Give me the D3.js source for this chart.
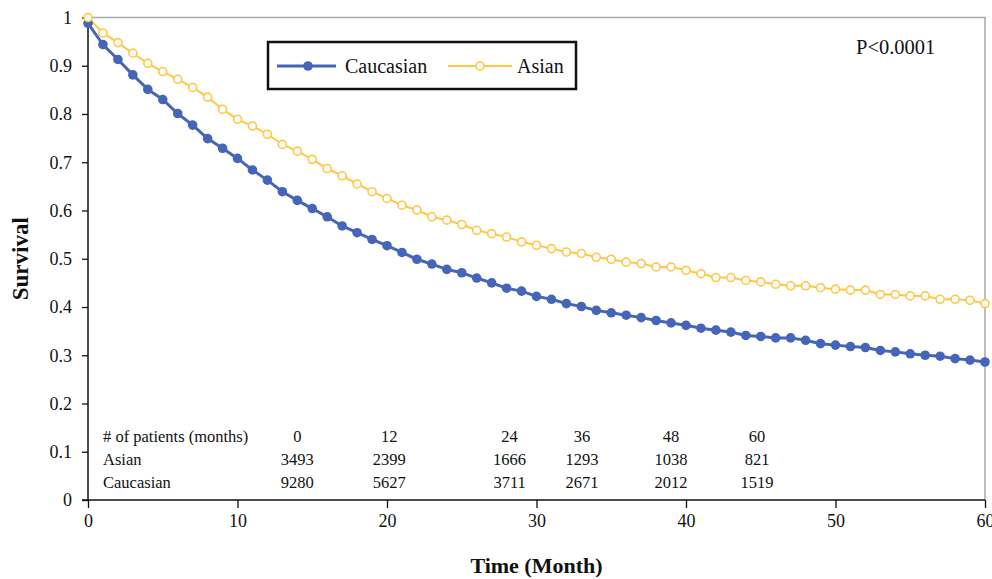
<!DOCTYPE html>
<html>
<head>
<meta charset="utf-8">
<script src="https://cdn.jsdelivr.net/npm/d3@7"></script>
<style>
  body { margin: 0; background: #fff; }
  text { font-family: 'Liberation Serif', 'Times New Roman', serif; fill: #111; }
</style>
</head>
<body>
<script>
// Survival by month
const months = d3.range(0, 61)

const caucasian = [
  0.988, 0.944, 0.913, 0.881, 0.851, 0.830, 0.801, 0.777, 0.749, 0.729, 0.708,
  0.684, 0.663, 0.639, 0.621, 0.604, 0.587, 0.568, 0.554, 0.540, 0.527,
  0.513, 0.499, 0.489, 0.478, 0.471, 0.460, 0.450, 0.439, 0.433, 0.422,
  0.416, 0.407, 0.401, 0.393, 0.388, 0.383, 0.378, 0.372, 0.367, 0.362,
  0.356, 0.352, 0.348, 0.341, 0.339, 0.336, 0.336, 0.331, 0.324, 0.321,
  0.318, 0.316, 0.310, 0.307, 0.303, 0.300, 0.298, 0.293, 0.290, 0.286
]

const asian = [
  1.000, 0.968, 0.948, 0.926, 0.905, 0.888, 0.872, 0.855, 0.835, 0.810, 0.789,
  0.775, 0.758, 0.737, 0.723, 0.706, 0.687, 0.672, 0.655, 0.639, 0.625,
  0.611, 0.601, 0.587, 0.580, 0.571, 0.559, 0.552, 0.545, 0.535, 0.528,
  0.521, 0.514, 0.511, 0.503, 0.499, 0.493, 0.490, 0.483, 0.483, 0.476,
  0.469, 0.461, 0.461, 0.455, 0.452, 0.447, 0.444, 0.444, 0.440, 0.437,
  0.435, 0.435, 0.426, 0.426, 0.423, 0.423, 0.416, 0.416, 0.414, 0.407
]

const xTicks = [0, 10, 20, 30, 40, 50, 60]
const yTicks = [0, 0.1, 0.2, 0.3, 0.4, 0.5, 0.6, 0.7, 0.8, 0.9, 1]

// patients at risk table
const riskHeader = ['0', '12', '24', '36', '48', '60']
const riskAsian = [3493, 2399, 1666, 1293, 1038, 821]
const riskCaucasian = [9280, 5627, 3711, 2671, 2012, 1519]

const blue = '#4566b8'
const yellow = '#ffc745'

const width = 992
const height = 579
const plotLeft = 88, plotRight = 985, plotTop = 17.5, plotBottom = 500

const svg = d3
  .select('body')
  .append('svg')
  .attr('width', width)
  .attr('height', height)

const x = d3.scaleLinear().domain([0, 60]).range([plotLeft, plotRight])
const y = d3.scaleLinear().domain([0, 1]).range([plotBottom, plotTop])

// plot area border (top and right, grey)
svg.append('path')
  .attr('d', `M${plotLeft},${plotTop}H${plotRight}V${plotBottom}`)
  .attr('fill', 'none')
  .attr('stroke', '#a8a8a8')
  .attr('stroke-width', 1.5)

const axisX = d3.axisBottom(x).tickValues(xTicks).tickSize(8).tickPadding(6).tickFormat(d3.format('d'))
const gx = svg.append('g').attr('transform', `translate(0, ${plotBottom})`).call(axisX)

const axisY = d3.axisLeft(y).tickValues(yTicks).tickSize(6).tickPadding(10).tickFormat(d => String(+d.toFixed(1)))
const gy = svg.append('g').attr('transform', `translate(${plotLeft}, 0)`).call(axisY)

;[gx, gy].forEach(g => {
  g.select('.domain').attr('stroke', '#111').attr('stroke-width', 1.5)
  g.selectAll('.tick line').attr('stroke', '#111').attr('stroke-width', 1.3)
  g.selectAll('.tick text')
    .attr('font-family', "'Liberation Serif', serif")
    .attr('font-size', 18)
    .attr('fill', '#111')
})
gy.select('.domain').attr('d', `M0,${plotBottom}V${plotTop}`)
gx.select('.domain').attr('d', `M${plotLeft - 6},0H${plotRight}`)

// axis titles
svg.append('text')
  .attr('x', (plotLeft + plotRight) / 2)
  .attr('y', 573)
  .attr('text-anchor', 'middle')
  .attr('font-size', 22)
  .attr('font-weight', 'bold')
  .text('Time (Month)')

svg.append('text')
  .attr('transform', `translate(28, ${(plotTop + plotBottom) / 2}) rotate(-90)`)
  .attr('text-anchor', 'middle')
  .attr('font-size', 23)
  .attr('font-weight', 'bold')
  .text('Survival')

// curves
const line = d3.line().x((d, i) => x(months[i])).y(d => y(d))

svg.append('path')
  .datum(asian)
  .attr('d', line)
  .attr('fill', 'none')
  .attr('stroke', yellow)
  .attr('stroke-width', 2)

svg.append('path')
  .datum(caucasian)
  .attr('d', line)
  .attr('fill', 'none')
  .attr('stroke', blue)
  .attr('stroke-width', 3)

svg.append('g')
  .selectAll('circle')
  .data(caucasian)
  .join('circle')
  .attr('cx', (d, i) => x(months[i]))
  .attr('cy', d => y(d))
  .attr('r', 4.8)
  .attr('fill', blue)

svg.append('g')
  .selectAll('circle')
  .data(asian)
  .join('circle')
  .attr('cx', (d, i) => x(months[i]))
  .attr('cy', d => y(d))
  .attr('r', 4)
  .attr('fill', '#fff')
  .attr('stroke', yellow)
  .attr('stroke-width', 1.6)

// legend
const legend = svg.append('g').attr('transform', 'translate(268, 42)')
legend.append('rect')
  .attr('width', 308)
  .attr('height', 47)
  .attr('fill', '#fff')
  .attr('stroke', '#111')
  .attr('stroke-width', 2.5)

legend.append('line').attr('x1', 9).attr('x2', 68).attr('y1', 24).attr('y2', 24)
  .attr('stroke', blue).attr('stroke-width', 3)
legend.append('circle').attr('cx', 40).attr('cy', 24).attr('r', 4.8).attr('fill', blue)
legend.append('text').attr('x', 77).attr('y', 31).attr('font-size', 20).text('Caucasian')

legend.append('line').attr('x1', 180).attr('x2', 244).attr('y1', 24).attr('y2', 24)
  .attr('stroke', yellow).attr('stroke-width', 2)
legend.append('circle').attr('cx', 212).attr('cy', 24).attr('r', 4)
  .attr('fill', '#fff').attr('stroke', yellow).attr('stroke-width', 1.6)
legend.append('text').attr('x', 249).attr('y', 31).attr('font-size', 20).text('Asian')

svg.append('text')
  .attr('x', 856)
  .attr('y', 54)
  .attr('font-size', 20.5)
  .text('P<0.0001')

// patients at risk table, columns placed in month units
const colMonths = [14, 20.15, 28.2, 33.05, 39, 44.75]
const rows = [
  { label: '# of patients (months)', values: riskHeader, y: 442 },
  { label: 'Asian', values: riskAsian, y: 465 },
  { label: 'Caucasian', values: riskCaucasian, y: 488 }
]

const table = svg.append('g')
rows.forEach(r => {
  table.append('text')
    .attr('x', 103)
    .attr('y', r.y)
    .attr('font-size', 16.5)
    .text(r.label)
  table.selectAll(null)
    .data(r.values)
    .join('text')
    .attr('x', (d, i) => x(colMonths[i]))
    .attr('y', r.y)
    .attr('text-anchor', 'middle')
    .attr('font-size', 16.5)
    .text(d => d)
})
</script>
</body>
</html>
